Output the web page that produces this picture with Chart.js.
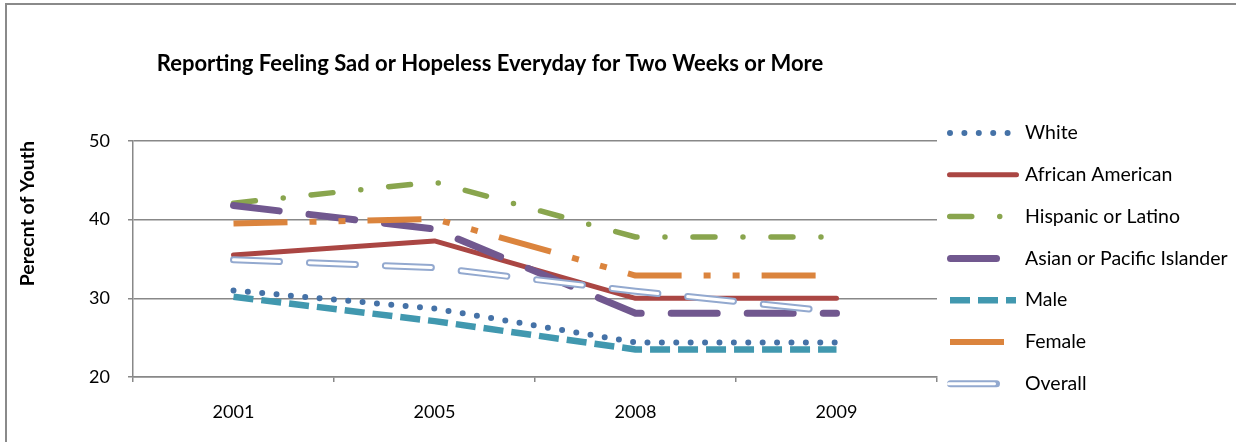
<!DOCTYPE html>
<html>
<head>
<meta charset="utf-8">
<script src="https://cdn.jsdelivr.net/npm/chart.js@4.4.1/dist/chart.umd.min.js"></script>
<style>
  html, body { margin: 0; padding: 0; background: #fff; }
  canvas { display: block; }
</style>
</head>
<body>
<canvas id="chart" width="1236" height="442"></canvas>
<script>
// Survey years and percent of youth per group
const years = ['2001', '2005', '2008', '2009'];
const white = [31.0, 28.7, 24.4, 24.4];
const africanAmerican = [35.5, 37.3, 30.0, 30.0];
const hispanicLatino = [42.1, 44.8, 37.8, 37.8];
const asianPacific = [41.8, 38.8, 28.1, 28.1];
const male = [30.2, 27.1, 23.5, 23.5];
const female = [39.5, 40.1, 32.9, 32.9];
const overall = [34.9, 33.9, 30.9, 28.3];
const yTickValues = [20, 30, 40, 50];

const chartTitle = 'Reporting Feeling Sad or Hopeless Everyday for Two Weeks or More';
const yAxisTitle = 'Perecnt of Youth';
const FONT = "Lato, 'Open Sans', sans-serif";
const GRID = '#888888';

function series(label, data, color, width, dash, cap, order, extra) {
  return Object.assign({
    label, data,
    borderColor: color,
    backgroundColor: color,
    borderWidth: width,
    borderDash: dash,
    borderCapStyle: cap,
    borderJoinStyle: 'round',
    pointRadius: 0,
    pointHoverRadius: 0,
    tension: 0,
    fill: false,
    order
  }, extra || {});
}

const datasets = [
  series('White', white, '#4572A7', 6, [0, 14.4], 'round', 8),
  series('African American', africanAmerican, '#AA4643', 5, [], 'round', 7),
  series('Hispanic or Latino', hispanicLatino, '#89A54E', 5.5, [22, 28, 0, 28], 'round', 6),
  series('Asian or Pacific Islander', asianPacific, '#71588F', 7, [46, 30], 'round', 5),
  series('Male', male, '#4198AF', 6.5, [20, 8], 'butt', 4),
  series('Female', female, '#DB843D', 6, [54, 22, 7, 22, 7, 22], 'butt', 3),
  series('Overall', overall, '#93A9CF', 7, [46, 30], 'round', 2),
  // white core stroked over the Overall line to give it a double-line look
  series('Overall', overall, '#FFFFFF', 3, [46, 30], 'round', 1, { innerStroke: true })
];

// Frame and chart title
const framePlugin = {
  id: 'frameAndTitle',
  beforeDraw(chart) {
    const ctx = chart.ctx;
    ctx.save();
    ctx.strokeStyle = '#8a8a8a';
    ctx.lineWidth = 2;
    ctx.beginPath();
    ctx.moveTo(6, chart.height);
    ctx.lineTo(6, 4);
    ctx.lineTo(chart.width, 4);
    ctx.stroke();
    ctx.restore();
  },
  afterDraw(chart) {
    const ctx = chart.ctx;
    ctx.save();
    ctx.fillStyle = '#000';
    ctx.font = 'bold 22px ' + FONT;
    ctx.textAlign = 'center';
    ctx.textBaseline = 'middle';
    ctx.fillText(chartTitle, 490, 64);
    ctx.restore();
  }
};

// Legend column to the right of the plot, with line samples in each series' style
const legendPlugin = {
  id: 'lineLegend',
  afterDraw(chart) {
    const ctx = chart.ctx;
    const area = chart.chartArea;
    const left = area.right + 10;
    const right = left + 72;
    const textX = left + 78;
    const top = area.top - 8;
    const rowGap = 41.8;
    const list = chart.data.datasets;
    const main = list.filter(d => !d.innerStroke);
    const strokeSample = (ds, y) => {
      const ext = ds.borderCapStyle === 'round' ? ds.borderWidth / 2 : 3;
      ctx.save();
      ctx.strokeStyle = ds.borderColor;
      ctx.lineWidth = ds.borderWidth;
      ctx.lineCap = ds.borderCapStyle;
      ctx.setLineDash(ds.borderDash || []);
      ctx.beginPath();
      ctx.moveTo(left + ext, y);
      ctx.lineTo(right - ext, y);
      ctx.stroke();
      ctx.restore();
    };
    main.forEach((ds, i) => {
      const y = top + i * rowGap;
      strokeSample(ds, y);
      const core = list.find(d => d.innerStroke && d.label === ds.label);
      if (core) strokeSample(core, y);
      ctx.save();
      ctx.fillStyle = '#000';
      ctx.font = '19.5px ' + FONT;
      ctx.textAlign = 'left';
      ctx.textBaseline = 'middle';
      ctx.fillText(ds.label, textX, y);
      ctx.restore();
    });
  }
};

new Chart(document.getElementById('chart'), {
  type: 'line',
  data: { labels: years, datasets },
  options: {
    responsive: false,
    animation: false,
    events: [],
    layout: { padding: { top: 141, left: 0, right: 299, bottom: 0 } },
    plugins: {
      legend: { display: false },
      title: { display: false },
      tooltip: { enabled: false }
    },
    scales: {
      x: {
        type: 'category',
        offset: true,
        grid: { offset: true, drawOnChartArea: false, tickLength: 5, color: GRID, lineWidth: 1.5 },
        border: { color: GRID, width: 1.5 },
        ticks: { color: '#000', font: { family: FONT, size: 18 }, padding: 19, maxRotation: 0 },
        afterFit: s => { s.height = 65; }
      },
      y: {
        min: 20,
        max: 50,
        afterBuildTicks: s => { s.ticks = yTickValues.map(v => ({ value: v })); },
        grid: { color: GRID, lineWidth: 1.5, tickLength: 5 },
        border: { color: GRID, width: 1.5 },
        ticks: { color: '#000', font: { family: FONT, size: 18 }, padding: 18 },
        title: {
          display: true,
          text: yAxisTitle,
          align: 'end',
          color: '#000',
          font: { family: FONT, size: 19.5, weight: 'bold' },
          padding: { top: 16, bottom: 0 }
        },
        afterFit: s => { s.width = 133; }
      }
    }
  },
  plugins: [framePlugin, legendPlugin]
});
</script>
</body>
</html>
